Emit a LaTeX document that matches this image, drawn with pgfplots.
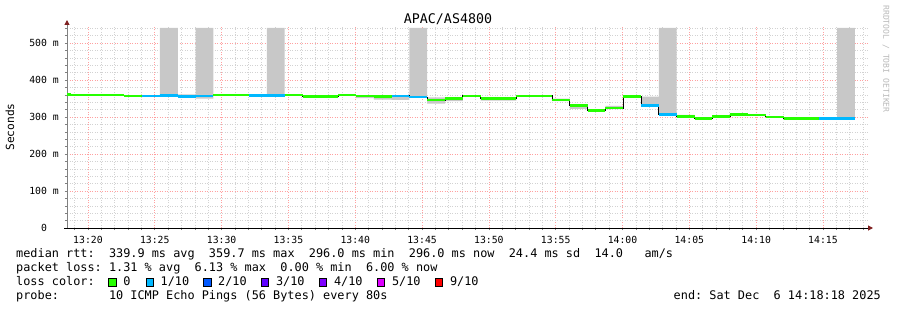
\documentclass[border=0pt]{standalone}
\usepackage{pgfplots}
\pgfplotsset{compat=1.18}
\usepackage{pgfplotstable}
\usetikzlibrary{arrows.meta}
\usepackage{fontspec}
\newfontfamily\mono{DejaVu Sans Mono}
\definecolor{loss0}{HTML}{26FF00}
\definecolor{loss1}{HTML}{00B8FF}
\definecolor{loss2}{HTML}{0059FF}
\definecolor{loss3}{HTML}{5E00FF}
\definecolor{loss4}{HTML}{7E00FF}
\definecolor{loss5}{HTML}{DD00FF}
\definecolor{loss9}{HTML}{FF0000}
\definecolor{smoke}{HTML}{C8C8C8}
\definecolor{arrowred}{HTML}{7F1F1F}
\definecolor{mgrid}{HTML}{FFA0A0}
\definecolor{mingrid}{HTML}{D2D2D2}

\pgfplotstableread{
x lo hi med
18.43 358 361 361
18.72 358 360 359.5
20.0533 359 360 359.5
21.3867 359 360 359.5
22.72 356 358 357
24.0533 356 358 357
25.3867 357 541 358.5
26.72 354 361 355
28.0533 350 541 357
29.3867 358 360 359
30.72 358 360 359
32.0533 357 358 357.5
33.3867 357 541 357.5
34.72 359 360 359.5
36.0533 355 357 356
37.3867 355 357 356
38.72 359 360 359.5
40.0533 351 358 357
41.3867 347 356 355
42.72 346 358 357
44.0533 352 541 354
45.3867 336 353 346
46.72 343 354 350
48.0533 355 358 357
49.3867 344 354 350.5
50.72 344 354 350.5
52.0533 356 358 357
53.3867 356 358 357
54.72 343 350 346.5
56.0533 322 335 330.5
57.3867 316 319 317.5
58.72 321 330 324
60.0533 355 357 356
61.3867 329 355 331
62.72 305 541 307
64.0533 299 306 301.5
65.3867 295 298 296.5
66.72 301 303 302
68.0533 306 308 307
69.3867 303 306.5 305.5
70.72 298 302 300.5
72.0533 295 297 296
73.3867 295 297 296
74.72 295 297 296
76.0533 295 541 296
77.3867 295 541 296
}\smoketab

\pgfplotstableread{
x y
18.43 361
18.72 361
nan nan
18.72 359.5
22.72 359.5
nan nan
22.72 357
24.0533 357
nan nan
29.3867 359
32.0533 359
nan nan
34.72 359.5
36.0533 359.5
nan nan
36.0533 356
38.72 356
nan nan
38.72 359.5
40.0533 359.5
nan nan
40.0533 357
41.3867 357
nan nan
41.3867 355
42.72 355
nan nan
45.3867 346
46.72 346
nan nan
46.72 350
48.0533 350
nan nan
48.0533 357
49.3867 357
nan nan
49.3867 350.5
52.0533 350.5
nan nan
52.0533 357
54.72 357
nan nan
54.72 346.5
56.0533 346.5
nan nan
56.0533 330.5
57.3867 330.5
nan nan
57.3867 317.5
58.72 317.5
nan nan
58.72 324
60.0533 324
nan nan
60.0533 356
61.3867 356
nan nan
64.0533 301.5
65.3867 301.5
nan nan
65.3867 296.5
66.72 296.5
nan nan
66.72 302
68.0533 302
nan nan
68.0533 307
69.3867 307
nan nan
69.3867 305.5
70.72 305.5
nan nan
70.72 300.5
72.0533 300.5
nan nan
72.0533 296
74.72 296
}\greentab

\pgfplotstableread{
x y
24.0533 357
25.3867 357
nan nan
25.3867 358.5
26.72 358.5
nan nan
26.72 355
28.0533 355
nan nan
28.0533 357
29.3867 357
nan nan
32.0533 357.5
34.72 357.5
nan nan
42.72 357
44.0533 357
nan nan
44.0533 354
45.3867 354
nan nan
61.3867 331
62.72 331
nan nan
62.72 307
64.0533 307
nan nan
74.72 296
77.3867 296
}\bluetab

\newcommand\legfont{\mono\fontsize{11.86}{13}\selectfont}

\begin{document}
\frenchspacing
\begin{tikzpicture}
\useasboundingbox (0pt,0pt) rectangle (897pt,-310pt);
\begin{axis}[
  at={(67pt,-228pt)}, anchor=south west,
  width=801pt, height=202pt, scale only axis,
  xmin=18.43, xmax=78.37, ymin=0, ymax=546,
  axis x line*=bottom, axis y line*=left,
  x axis line style={black, line width=1pt, shorten <=-3pt, shorten >=-5pt,
    -{Triangle[length=5pt,width=5pt,color=arrowred]}},
  y axis line style={gray, line width=1pt, shorten >=-6pt,
    -{Triangle[length=5pt,width=5pt,color=arrowred]}},
  xtick={20,25,...,75},
  xticklabels={13:20,13:25,13:30,13:35,13:40,13:45,13:50,13:55,14:00,14:05,14:10,14:15},
  minor xtick={19,20,...,78},
  ytick={0,100,...,500},
  yticklabels={0\hphantom{00},100 m,200 m,300 m,400 m,500 m},
  minor ytick={20,40,...,540},
  grid=both,
  major grid style={mgrid, line width=0.6pt, dash pattern=on 1pt off 1.5pt},
  minor grid style={mingrid, line width=0.6pt, dash pattern=on 1pt off 1.5pt},
  tick align=outside,
  major tick length=2pt, minor tick length=2pt,
  tick style={gray, line width=0.6pt},
  ticklabel style={font=\mono\fontsize{9.8}{10}\selectfont, inner sep=0pt},
  xticklabel style={anchor=north, yshift=-6pt},
  yticklabel style={anchor=east, xshift=-6pt},
]
\addplot[const plot, draw=none, stack plots=y, forget plot] table[x=x,y=lo]{\smoketab};
\addplot[const plot, draw=none, fill=smoke, stack plots=y, forget plot] table[x=x,y expr=\thisrow{hi}-\thisrow{lo}]{\smoketab} \closedcycle;
\addplot[const plot, black, line width=0.9pt, stack plots=false] table[x=x,y=med]{\smoketab};
\addplot[loss0, line width=2.6pt, stack plots=false, unbounded coords=jump] table[x=x,y=y]{\greentab};
\addplot[loss1, line width=2.6pt, stack plots=false, unbounded coords=jump] table[x=x,y=y]{\bluetab};
\end{axis}
% title, labels, watermark
\node[font=\mono\fontsize{13.3}{14}\selectfont, anchor=base, inner sep=0pt] at (448pt,-24pt) {APAC/AS4800};
\node[font=\mono\fontsize{11.2}{12}\selectfont, rotate=90, inner sep=0pt] at (10pt,-127pt) {Seconds};
\node[font=\mono\fontsize{8.1}{9}\selectfont, text=gray!55, rotate=-90, inner sep=0pt] at (886pt,-59pt) {RRDTOOL~/~TOBI~OETIKER};
% legend lines
\node[font=\legfont, inner sep=0pt, anchor=base west] at (16pt,-257.7pt) {median~rtt:~~339.9~ms~avg~~359.7~ms~max~~296.0~ms~min~~296.0~ms~now~~24.4~ms~sd~~14.0~~~am/s};
\node[font=\legfont, inner sep=0pt, anchor=base west] at (16pt,-271.7pt) {packet~loss:~1.31~\%~avg~~6.13~\%~max~~0.00~\%~min~~6.00~\%~now};
\node[font=\legfont, inner sep=0pt, anchor=base west] at (16pt,-285.7pt) {loss~color:};
\foreach \bx/\c in {108.7/loss0, 146/loss1, 203.5/loss2, 261.3/loss3, 319.3/loss4, 377.3/loss5, 435.3/loss9}{
  \filldraw[fill=\c, draw=black, line width=0.8pt] (\bx pt,-286pt) rectangle ++(7.5pt,7.5pt);
}
\node[font=\legfont, inner sep=0pt, anchor=base west] at (123.2pt,-285.7pt) {0};
\node[font=\legfont, inner sep=0pt, anchor=base west] at (160.5pt,-285.7pt) {1/10};
\node[font=\legfont, inner sep=0pt, anchor=base west] at (218pt,-285.7pt) {2/10};
\node[font=\legfont, inner sep=0pt, anchor=base west] at (275.8pt,-285.7pt) {3/10};
\node[font=\legfont, inner sep=0pt, anchor=base west] at (333.8pt,-285.7pt) {4/10};
\node[font=\legfont, inner sep=0pt, anchor=base west] at (391.8pt,-285.7pt) {5/10};
\node[font=\legfont, inner sep=0pt, anchor=base west] at (449.8pt,-285.7pt) {9/10};
\node[font=\legfont, inner sep=0pt, anchor=base west] at (16pt,-299.7pt) {probe:};
\node[font=\legfont, inner sep=0pt, anchor=base west] at (108.8pt,-299.7pt) {10~ICMP~Echo~Pings~(56~Bytes)~every~80s};
\node[font=\legfont, inner sep=0pt, anchor=base east] at (881pt,-299.7pt) {end:~Sat~Dec~~6~14:18:18~2025};
\end{tikzpicture}
\end{document}
